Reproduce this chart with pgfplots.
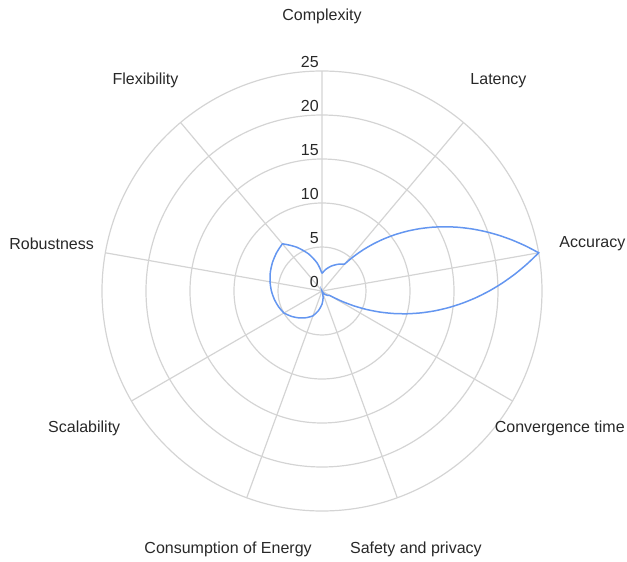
\documentclass[border=0pt]{standalone}
\usepackage{pgfplots}
\pgfplotsset{compat=1.18}
\usepgfplotslibrary{polar}
\usepgfmodule{nonlineartransformations}
\usepackage{fontspec}
\setmainfont{Liberation Sans}
\definecolor{gridc}{RGB}{212,212,212}
\definecolor{linec}{RGB}{100,150,240}
\definecolor{txt}{RGB}{40,40,40}
\makeatletter
% maps (angle in pt, radius in pt) to a point around the polar centre (\CX,\CY)
\def\polartransformation{%
  \pgfmathsincos@{\pgf@sys@tonumber\pgf@x}%
  \pgf@x=\pgfmathresultx\pgf@y
  \pgf@y=\pgfmathresulty\pgf@y
  \advance\pgf@x by \CX\relax
  \advance\pgf@y by \CY\relax
}
\makeatother
\begin{document}
\begin{tikzpicture}[lab/.style={txt, inner sep=0pt, anchor=center, font=\fontsize{16}{19}\selectfont},
  rl/.style={txt, inner sep=0pt, anchor=south east, xshift=-3pt, yshift=3pt, font=\fontsize{16}{19}\selectfont}]
\begin{polaraxis}[
  at={(0pt,0pt)}, anchor=center,
  scale only axis, width=440pt, height=440pt,
  ymin=0, ymax=25,
  xtick={10,50,90,130,170,210,250,290,330},
  xticklabels={},
  ytick={5,10,15,20,25}, yticklabels={},
  grid=major,
  major grid style={gridc, line width=1.2pt},
  axis line style={draw=none},
  tick style={draw=none},
  clip=false,
]
\coordinate (c) at (axis cs:0,0);
\node[lab] at (axis cs:90,31.2) {Complexity};
\node[lab] at (axis cs:50,31.2) {Latency};
\node[lab] at (axis cs:10,31.2) {Accuracy};
\node[lab] at (axis cs:330,31.2) {Convergence time};
\node[lab] at (axis cs:290,31.2) {Safety and privacy};
\node[lab] at (axis cs:250,31.2) {Consumption of Energy};
\node[lab] at (axis cs:210,31.2) {Scalability};
\node[lab] at (axis cs:170,31.2) {Robustness};
\node[lab] at (axis cs:130,31.2) {Flexibility};
\node[rl] at (axis cs:90,0) {0};
\node[rl] at (axis cs:90,5) {5};
\node[rl] at (axis cs:90,10) {10};
\node[rl] at (axis cs:90,15) {15};
\node[rl] at (axis cs:90,20) {20};
\node[rl] at (axis cs:90,25) {25};
\end{polaraxis}
\path (c); \pgfgetlastxy{\CX}{\CY}
\begin{axis}[
  at={(0pt,0pt)}, anchor=south west,
  disabledatascaling,
  x=1pt, y=8.8pt,
  xmin=0, xmax=460, ymin=0, ymax=25,
  hide axis, clip=false,
]
% x = angle in degrees (clockwise order), y = value; segments are drawn
% straight in (angle, value), i.e. as spirals on the radar grid
\addplot[linec, line width=1.5pt, sharp plot,
  /utils/exec={\pgftransformnonlinear{\polartransformation}}] coordinates {
(450,2) (410,4) (370,25) (330,1) (290,0) (250,3) (210,5) (170,6) (130,7) (90,2)
};
\end{axis}
\pgfresetboundingbox
\path (c) ++(-322pt,-271pt) rectangle ++(627pt,562pt);
\end{tikzpicture}
\end{document}
